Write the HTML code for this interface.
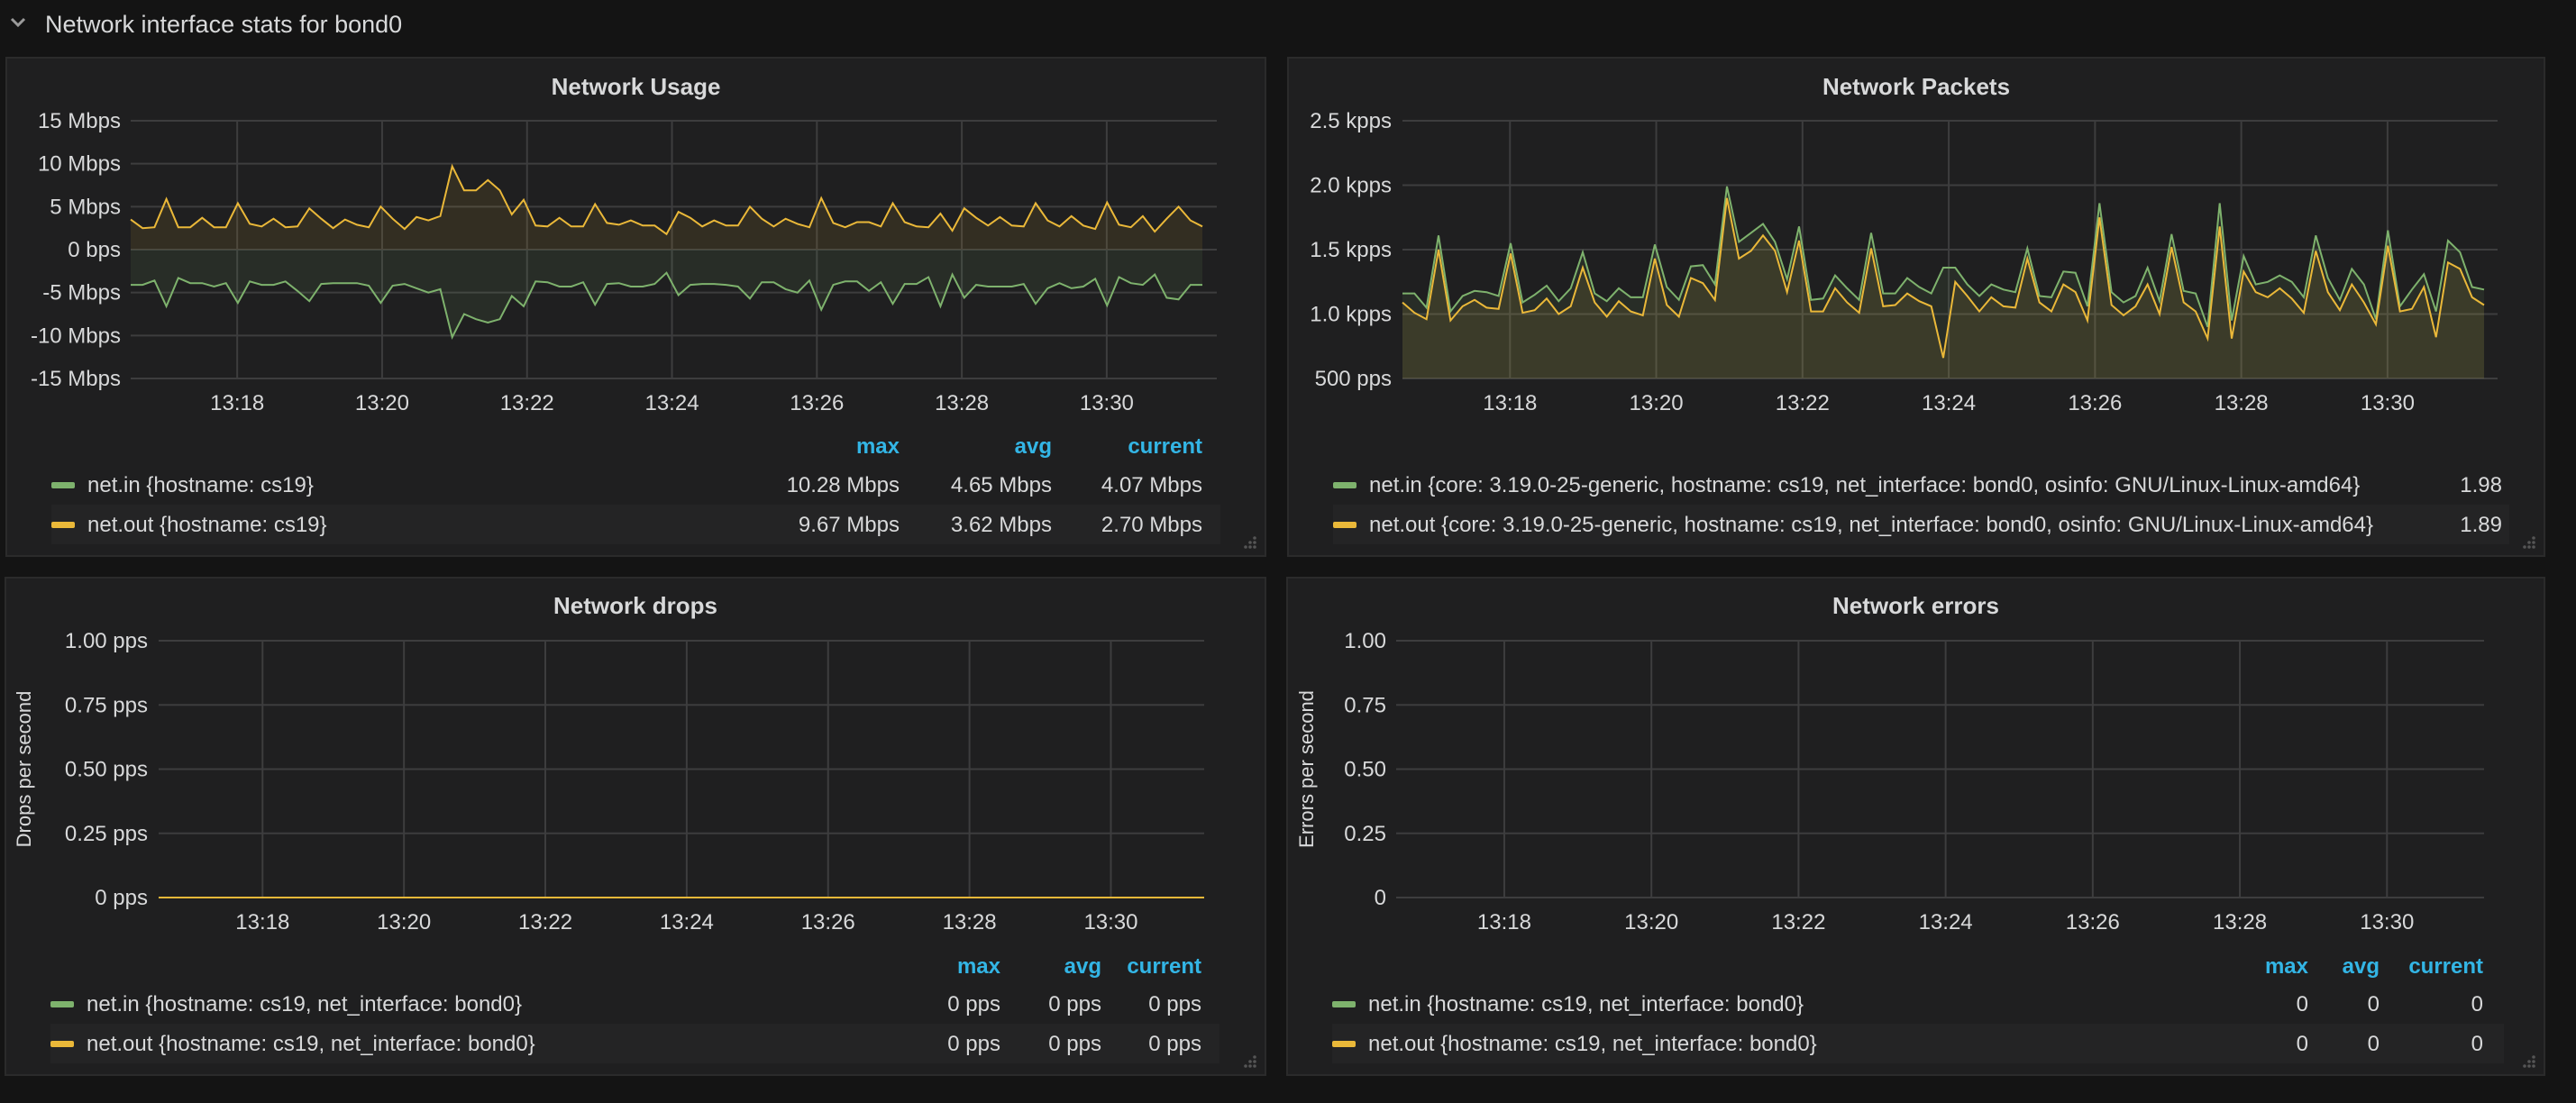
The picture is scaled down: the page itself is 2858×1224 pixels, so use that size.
<!DOCTYPE html>
<html><head><meta charset="utf-8"><style>
html,body{margin:0;padding:0;background:#141414;width:2858px;height:1224px;overflow:hidden}
svg{display:block;font-family:"Liberation Sans",sans-serif}
</style></head><body>
<svg id="root" width="2858" height="1224" viewBox="0 0 2858 1224" xmlns="http://www.w3.org/2000/svg">
<rect x="0" y="0" width="2858" height="1224" fill="#141414"/>
<g>
<path d="M13,21 L20,28 L27,21" fill="none" stroke="#9a9a9a" stroke-width="3"/>
<text x="50" y="36" font-size="27" fill="#d8d9da">Network interface stats for bond0</text>
</g>
</svg>
<script>
const usageOut=[3.5,2.5,2.6,5.9,2.6,2.6,3.7,2.6,2.6,5.4,3.0,2.7,3.6,2.6,2.7,4.8,3.6,2.5,3.5,2.9,2.6,5.0,3.6,2.4,3.8,3.4,3.9,9.7,6.9,6.9,8.1,6.9,4.1,5.8,2.8,2.7,3.7,2.7,2.7,5.3,3.1,2.9,3.4,2.8,2.8,1.8,4.4,3.7,2.7,3.4,2.8,2.8,5.0,3.6,2.7,3.6,3.0,2.6,6.0,3.1,2.6,3.2,3.2,2.7,5.4,3.2,2.7,2.6,4.2,2.2,4.8,3.7,2.8,3.8,2.8,2.7,5.4,3.4,2.7,3.9,2.8,2.4,5.5,2.9,2.6,3.9,2.1,3.6,5.0,3.4,2.7];
const usageIn=[4.1,4.1,3.6,6.6,3.3,3.9,3.9,4.3,3.9,6.2,3.7,4.1,4.1,3.7,4.8,6.0,4.0,3.9,3.9,3.9,4.2,6.2,4.2,4.0,4.5,5.0,4.6,10.2,7.5,8.1,8.5,8.1,5.4,6.6,3.7,3.8,4.3,4.3,3.8,6.4,4.0,3.9,4.3,4.3,4.0,2.7,5.3,4.1,4.0,4.0,4.1,4.3,5.7,3.8,3.8,4.6,5.0,3.6,7.0,4.1,3.7,3.7,4.8,3.8,6.3,4.0,4.0,3.2,6.6,2.9,5.6,4.1,4.3,4.3,4.3,4.0,6.3,4.5,3.9,4.5,4.3,3.4,6.5,3.2,3.9,4.1,2.9,5.6,5.8,4.1,4.1];
const packetsIn=[1.16,1.16,1.05,1.61,1.02,1.14,1.18,1.17,1.14,1.55,1.09,1.15,1.22,1.10,1.20,1.48,1.16,1.10,1.20,1.13,1.13,1.54,1.21,1.11,1.37,1.38,1.23,1.99,1.56,1.63,1.70,1.56,1.27,1.68,1.11,1.12,1.30,1.20,1.11,1.63,1.16,1.16,1.28,1.21,1.16,1.36,1.36,1.23,1.14,1.23,1.19,1.17,1.51,1.14,1.13,1.33,1.32,1.06,1.86,1.17,1.09,1.14,1.36,1.10,1.62,1.18,1.16,0.90,1.86,0.95,1.45,1.23,1.25,1.30,1.25,1.13,1.61,1.28,1.11,1.35,1.23,0.96,1.65,1.06,1.19,1.31,1.02,1.57,1.48,1.21,1.19];
const packetsOut=[1.09,1.01,0.96,1.50,0.95,1.06,1.11,1.05,1.04,1.47,1.01,1.03,1.12,1.00,1.06,1.36,1.09,0.98,1.10,1.02,0.99,1.43,1.07,0.98,1.28,1.24,1.11,1.90,1.43,1.49,1.61,1.49,1.17,1.57,1.02,1.02,1.20,1.09,1.01,1.51,1.06,1.07,1.16,1.10,1.06,0.66,1.25,1.14,1.02,1.13,1.06,1.05,1.43,1.09,1.02,1.23,1.17,0.95,1.75,1.07,0.99,1.06,1.23,1.00,1.52,1.09,1.02,0.81,1.68,0.81,1.33,1.17,1.13,1.20,1.12,1.01,1.49,1.17,1.03,1.23,1.09,0.92,1.53,1.02,1.04,1.21,0.82,1.40,1.35,1.13,1.07];
const dropsOut=[0,0];
const timeSpan=[16.53,31.32];
const timeTicks=[18,20,22,24,26,28,30];
const timeTickLabels=["13:18","13:20","13:22","13:24","13:26","13:28","13:30"];
const usageTicks=[15,10,5,0,-5,-10,-15];
const usageTickLabels=["15 Mbps","10 Mbps","5 Mbps","0 bps","-5 Mbps","-10 Mbps","-15 Mbps"];
const packetTicks=[2.5,2.0,1.5,1.0,0.5];
const packetTickLabels=["2.5 kpps","2.0 kpps","1.5 kpps","1.0 kpps","500 pps"];
const unitTicks=[1,0.75,0.5,0.25,0];
const dropTickLabels=["1.00 pps","0.75 pps","0.50 pps","0.25 pps","0 pps"];
const errTickLabels=["1.00","0.75","0.50","0.25","0"];

const NS="http://www.w3.org/2000/svg";
const root=document.getElementById('root');
const GREEN="#7eb26d",YELLOW="#eab839";
function mk(tag,attrs,parent){const e=document.createElementNS(NS,tag);for(const k in attrs)e.setAttribute(k,attrs[k]);(parent||root).appendChild(e);return e;}
function txt(parent,x,y,s,size,fill,anchor,weight){const t=mk('text',{x:x,y:y,'font-size':size,fill:fill,'text-anchor':anchor||'start','font-weight':weight||'normal'},parent);t.textContent=s;return t;}

function panel(cfg){
  const g=mk('g',{});
  
  
  const bg=mk('rect',{x:cfg.px,y:cfg.py,width:cfg.pw,height:cfg.ph,fill:'#1f1f20',stroke:'#2b2b2b','stroke-width':2},g);
  
  
  const tt=txt(g,cfg.px+cfg.pw/2,cfg.titleY,cfg.title,26,'#d8d9da','middle','bold');
  
  
  const p=cfg.plot;
  const xs=t=>p.l+(t-timeSpan[0])/(timeSpan[1]-timeSpan[0])*(p.r-p.l);
  const ys=v=>p.b-(v-cfg.ymin)/(cfg.ymax-cfg.ymin)*(p.b-p.t);
  const grid=mk('g',{},g);
  
  
  cfg.yticks.forEach((v,i)=>{
    const l=mk('line',{x1:p.l,x2:p.gridR,y1:ys(v),y2:ys(v),stroke:'#3d3d3e','stroke-width':2},grid);
    
    
    const t=txt(g,cfg.labelR,ys(v)+8,cfg.ylabels[i],24,'#d8d9da','end');
    
    
  });
  timeTicks.forEach((v,i)=>{
    const l=mk('line',{x1:xs(v),x2:xs(v),y1:p.t,y2:p.b,stroke:'#3d3d3e','stroke-width':2},grid);
    
    
    const t=txt(g,xs(v),p.b+35,timeTickLabels[i],24,'#d8d9da','middle');
    
    
  });
  if(cfg.ytitle){
    const cy=(p.t+p.b)/2;
    const t=txt(g,cfg.ytitleX,cy,cfg.ytitle,22,'#d8d9da','middle');
    t.setAttribute('transform','rotate(-90 '+cfg.ytitleX+' '+cy+')');
    
    
  }
  (cfg.series||[]).forEach(s=>{
    const n=s.data.length;
    const pts=s.data.map((v,i)=>[xs(timeSpan[0]+i*(timeSpan[1]-timeSpan[0])/(n-1)),ys(s.sign*v)]);
    const line=pts.map((q,i)=>(i?'L':'M')+q[0].toFixed(1)+','+q[1].toFixed(1)).join('');
    const base=ys(s.base);
    if(s.fill){
      const a=mk('path',{d:line+'L'+pts[n-1][0].toFixed(1)+','+base+'L'+pts[0][0].toFixed(1)+','+base+'Z',fill:s.color,'fill-opacity':0.1},g);
      
      
    }
    const l=mk('path',{d:line,fill:'none',stroke:s.color,'stroke-width':2},g);
    
    
  });
  const L=cfg.legend;
  const hb=mk('rect',{x:cfg.px+50,y:L.row2-22,width:L.bgW,height:44,fill:'#242425'},g);
  
  
  if(L.cols){
    L.cols.forEach((c,i)=>{
      const t=txt(g,c,L.head,L.heads[i],24,'#33b5e5','end','bold');
      
      
    });
  }
  L.rows.forEach((r,ri)=>{
    const y=ri?L.row2:L.row1;
    const sw=mk('rect',{x:cfg.px+50,y:y-3,width:26,height:7,rx:2,fill:r.color},g);
    
    
    const t=txt(g,cfg.px+90,y+8,r.label,24,'#d8d9da');
    
    
    r.vals.forEach((v,i)=>{
      const tv=txt(g,L.valX[i],y+8,v,24,'#d8d9da','end');
      
      
    });
  });
  const rx=cfg.px+cfg.pw-12,ry=cfg.py+cfg.ph-10;
  [[0,0],[-5,0],[-10,0],[0,-5],[-5,-5],[0,-10]].forEach(d=>{
    const c=mk('circle',{cx:rx+d[0],cy:ry+d[1],r:1.8,fill:'#555'},g);
    
    
  });
}

panel({name:'network-usage-panel',px:7,py:64,pw:1397,ph:553,title:'Network Usage',titleY:105,
  plot:{l:145,r:1334,gridR:1350,t:134,b:420},ymin:-15,ymax:15,yticks:usageTicks,ylabels:usageTickLabels,labelR:134,
  series:[{name:'net-out',data:usageOut,sign:1,base:0,color:YELLOW,fill:true},{name:'net-in',data:usageIn,sign:-1,base:0,color:GREEN,fill:true}],
  legend:{head:503,row1:538,row2:582,bgW:1297,cols:[998,1167,1334],heads:['max','avg','current'],valX:[998,1167,1334],
    rows:[{color:GREEN,label:'net.in {hostname: cs19}',vals:['10.28 Mbps','4.65 Mbps','4.07 Mbps']},{color:YELLOW,label:'net.out {hostname: cs19}',vals:['9.67 Mbps','3.62 Mbps','2.70 Mbps']}]}});

panel({name:'network-packets-panel',px:1429,py:64,pw:1394,ph:553,title:'Network Packets',titleY:105,
  plot:{l:1556,r:2756,gridR:2771,t:134,b:420},ymin:0.5,ymax:2.5,yticks:packetTicks,ylabels:packetTickLabels,labelR:1544,
  series:[{name:'net-in',data:packetsIn,sign:1,base:0.5,color:GREEN,fill:true},{name:'net-out',data:packetsOut,sign:1,base:0.5,color:YELLOW,fill:true}],
  legend:{head:503,row1:538,row2:582,bgW:1305,valX:[2776],
    rows:[{color:GREEN,label:'net.in {core: 3.19.0-25-generic, hostname: cs19, net_interface: bond0, osinfo: GNU/Linux-Linux-amd64}',vals:['1.98']},{color:YELLOW,label:'net.out {core: 3.19.0-25-generic, hostname: cs19, net_interface: bond0, osinfo: GNU/Linux-Linux-amd64}',vals:['1.89']}]}});

panel({name:'network-drops-panel',px:6,py:641,pw:1398,ph:552,title:'Network drops',titleY:681,
  plot:{l:176,r:1336,gridR:1336,t:711,b:996},ymin:0,ymax:1,yticks:unitTicks,ylabels:dropTickLabels,labelR:164,
  ytitle:'Drops per second',ytitleX:34,
  series:[{name:'net-out',data:dropsOut,sign:1,base:0,color:YELLOW,fill:false}],
  legend:{head:1080,row1:1114,row2:1158,bgW:1297,cols:[1110,1222,1333],heads:['max','avg','current'],valX:[1110,1222,1333],
    rows:[{color:GREEN,label:'net.in {hostname: cs19, net_interface: bond0}',vals:['0 pps','0 pps','0 pps']},{color:YELLOW,label:'net.out {hostname: cs19, net_interface: bond0}',vals:['0 pps','0 pps','0 pps']}]}});

panel({name:'network-errors-panel',px:1428,py:641,pw:1395,ph:552,title:'Network errors',titleY:681,
  plot:{l:1549,r:2756,gridR:2756,t:711,b:996},ymin:0,ymax:1,yticks:unitTicks,ylabels:errTickLabels,labelR:1538,
  ytitle:'Errors per second',ytitleX:1457,
  series:[],
  legend:{head:1080,row1:1114,row2:1158,bgW:1300,cols:[2561,2640,2755],heads:['max','avg','current'],valX:[2561,2640,2755],
    rows:[{color:GREEN,label:'net.in {hostname: cs19, net_interface: bond0}',vals:['0','0','0']},{color:YELLOW,label:'net.out {hostname: cs19, net_interface: bond0}',vals:['0','0','0']}]}});
</script>
</body></html>
